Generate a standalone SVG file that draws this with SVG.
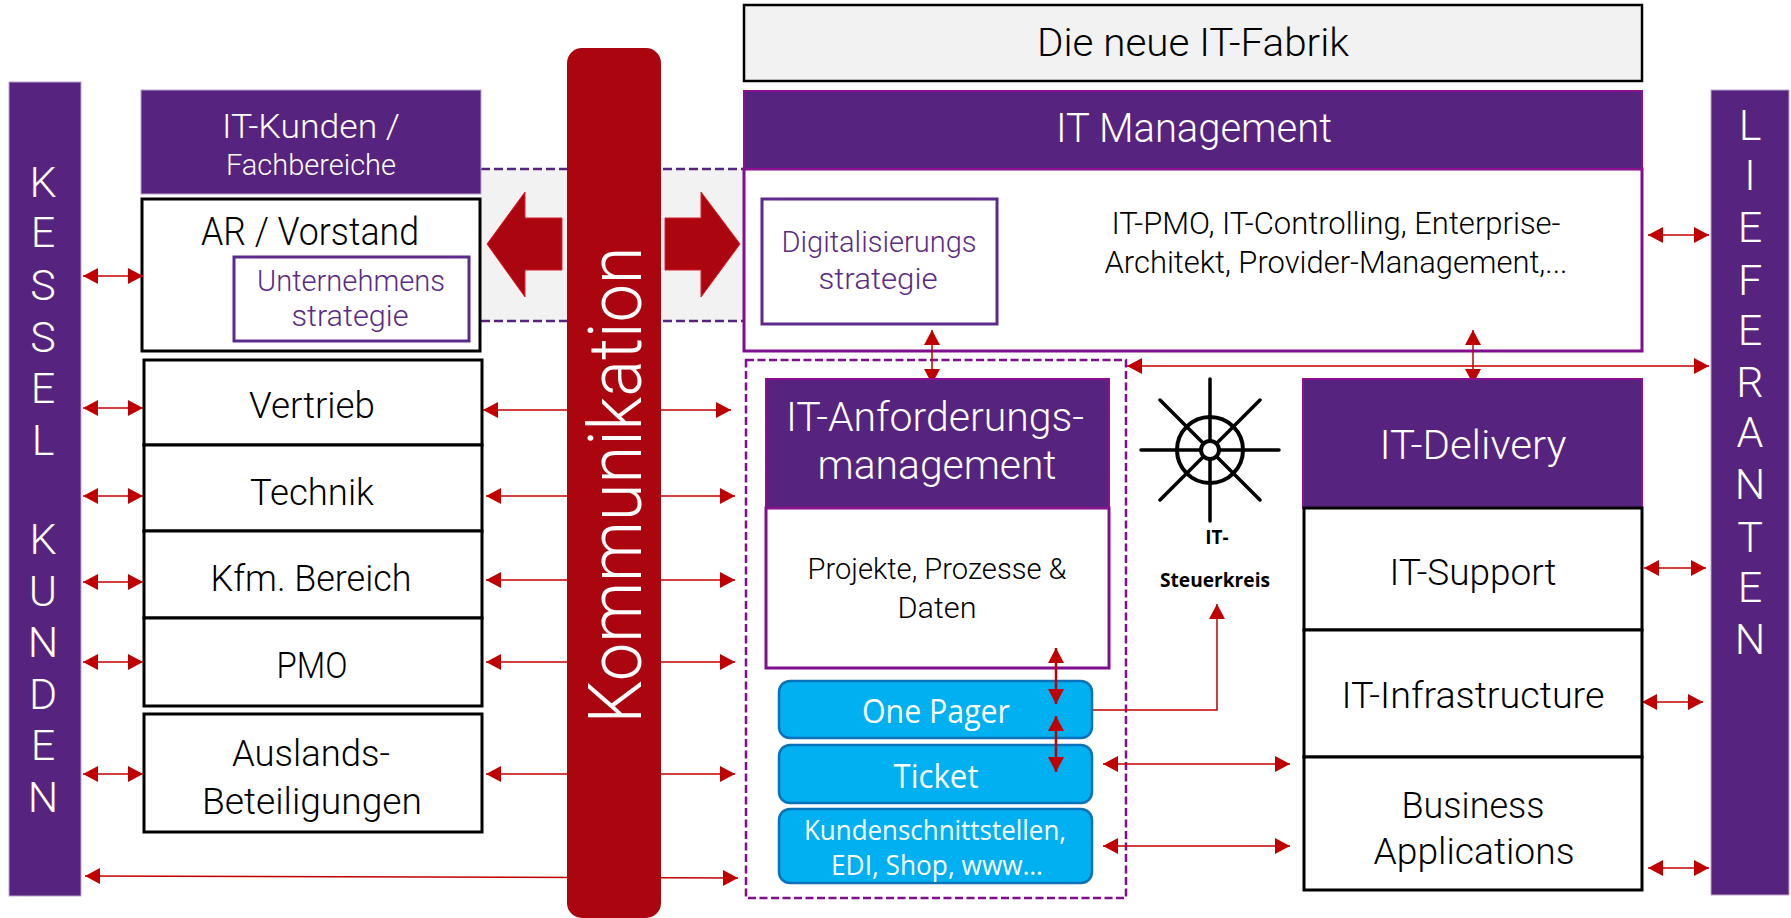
<svg xmlns="http://www.w3.org/2000/svg" width="1791" height="918" viewBox="0 0 1791 918">
<style>
text{font-family:Roboto,"Open Sans","Liberation Sans",sans-serif;font-weight:300;text-anchor:middle;fill:#000}
.w{fill:#fff}.p{fill:#5b2a86}
.c{font-family:"Open Sans","Liberation Sans",sans-serif;font-weight:400}
.bar{fill:#56247e;stroke:#b9a3cf;stroke-width:1}
.hd{fill:#56247e;stroke:#8b0f8f;stroke-width:2}
.bx{fill:#fff;stroke:#000;stroke-width:3}
.pb{fill:#fff;stroke:#800f8f;stroke-width:3}
.in{fill:#fff;stroke:#5b2a8a;stroke-width:3}
.bl{fill:#00b0f0;stroke:#0b72b9;stroke-width:2.5}
.lk{fill:none;stroke:#c00000;stroke-width:1.5;marker-start:url(#ah);marker-end:url(#ah)}
.lt{stroke-width:2.5}
.ba{fill:#ab0510;stroke:#d8202a;stroke-width:1}
.sp{stroke:#000;stroke-width:3.5;stroke-linecap:round;fill:none}
</style>
<defs>
<marker id="ah" markerUnits="userSpaceOnUse" markerWidth="16" markerHeight="16" refX="15" refY="8" orient="auto-start-reverse"><path d="M0 0L15 8L0 16z" fill="#c00000"/></marker>
<marker id="ae" markerUnits="userSpaceOnUse" markerWidth="16" markerHeight="16" refX="15" refY="8" orient="auto"><path d="M0 0L15 8L0 16z" fill="#c00000"/></marker>
</defs>
<rect width="1791" height="918" fill="#fff"/>
<g id="band">
<rect x="481" y="169" width="263" height="152" fill="#f2f2f2"/>
<path d="M481 169H744M481 321H744" fill="none" stroke="#56247e" stroke-width="2.5" stroke-dasharray="9 4"/>
</g>
<g id="kessel-kunden"><rect class="bar" x="9" y="82" width="72" height="814"/>
<text class="w" font-size="43"><tspan x="43" y="197">K</tspan><tspan x="43" y="247">E</tspan><tspan x="43" y="300">S</tspan><tspan x="43" y="352">S</tspan><tspan x="43" y="403">E</tspan><tspan x="43" y="455">L</tspan><tspan x="43" y="554">K</tspan><tspan x="43" y="606">U</tspan><tspan x="43" y="657">N</tspan><tspan x="43" y="709">D</tspan><tspan x="43" y="760">E</tspan><tspan x="43" y="812">N</tspan></text></g>
<g id="lieferanten"><rect class="bar" x="1711" y="90" width="78" height="805"/>
<text class="w" font-size="43"><tspan x="1750" y="140">L</tspan><tspan x="1750" y="190">I</tspan><tspan x="1750" y="242">E</tspan><tspan x="1750" y="295">F</tspan><tspan x="1750" y="345">E</tspan><tspan x="1750" y="397">R</tspan><tspan x="1750" y="447">A</tspan><tspan x="1750" y="499">N</tspan><tspan x="1750" y="552">T</tspan><tspan x="1750" y="602">E</tspan><tspan x="1750" y="654">N</tspan></text></g>
<g id="it-kunden"><rect class="bar" x="141" y="90" width="340" height="104"/>
<text class="w" font-size="34" x="311" y="138" textLength="178" lengthAdjust="spacingAndGlyphs">IT-Kunden /</text>
<text class="w" font-size="29" x="311" y="175" textLength="170" lengthAdjust="spacingAndGlyphs">Fachbereiche</text></g>
<g id="ar-vorstand"><rect class="bx" x="142" y="199" width="338" height="152"/>
<text font-size="38" x="310" y="245" textLength="218" lengthAdjust="spacingAndGlyphs">AR / Vorstand</text></g>
<g id="unternehmensstrategie"><rect class="in" x="234" y="257" width="235" height="84"/>
<text class="p" font-size="29" x="351" y="291" textLength="188" lengthAdjust="spacingAndGlyphs">Unternehmens</text>
<text class="p" font-size="29" x="350" y="326" textLength="117" lengthAdjust="spacingAndGlyphs">strategie</text></g>
<g id="vertrieb"><rect class="bx" x="144" y="360" width="338" height="85"/><text font-size="37" x="312" y="418" textLength="126" lengthAdjust="spacingAndGlyphs">Vertrieb</text></g>
<g id="technik"><rect class="bx" x="144" y="445" width="338" height="86"/><text font-size="37" x="312" y="505" textLength="124" lengthAdjust="spacingAndGlyphs">Technik</text></g>
<g id="kfm-bereich"><rect class="bx" x="144" y="531" width="338" height="87"/><text font-size="37" x="311" y="591" textLength="201" lengthAdjust="spacingAndGlyphs">Kfm. Bereich</text></g>
<g id="pmo"><rect class="bx" x="144" y="618" width="338" height="88"/><text font-size="37" x="312" y="678" textLength="71" lengthAdjust="spacingAndGlyphs">PMO</text></g>
<g id="auslands"><rect class="bx" x="144" y="714" width="338" height="118"/>
<text font-size="37" x="311" y="766" textLength="158" lengthAdjust="spacingAndGlyphs">Auslands-</text>
<text font-size="37" x="312" y="814" textLength="220" lengthAdjust="spacingAndGlyphs">Beteiligungen</text></g>
<g id="title"><rect x="744" y="5" width="898" height="76" fill="#f2f2f2" stroke="#000" stroke-width="2.5"/>
<text font-size="38" x="1193" y="56" textLength="312" lengthAdjust="spacingAndGlyphs">Die neue IT-Fabrik</text></g>
<g id="it-management"><rect class="pb" x="744" y="169" width="898" height="182"/><rect class="hd" x="744" y="91" width="898" height="78"/>
<text class="w" font-size="40" x="1194" y="142" textLength="276" lengthAdjust="spacingAndGlyphs">IT Management</text>
<text font-size="31" x="1336" y="234" textLength="449" lengthAdjust="spacingAndGlyphs">IT-PMO, IT-Controlling, Enterprise-</text>
<text font-size="31" x="1336" y="273" textLength="463" lengthAdjust="spacingAndGlyphs">Architekt, Provider-Management,...</text></g>
<g id="digitalisierungsstrategie"><rect class="in" x="762" y="199" width="235" height="125"/>
<text class="p" font-size="29" x="879" y="252" textLength="195" lengthAdjust="spacingAndGlyphs">Digitalisierungs</text>
<text class="p" font-size="29" x="878" y="289" textLength="119" lengthAdjust="spacingAndGlyphs">strategie</text></g>
<g id="dashed-frame"><rect x="746" y="360" width="380" height="538" fill="none" stroke="#800f8f" stroke-width="2.5" stroke-dasharray="8 3.5"/></g>
<g id="connectors">
<path class="lk" d="M83 276H143"/><path class="lk" d="M83 408H143"/><path class="lk" d="M83 496H143"/><path class="lk" d="M83 582H143"/><path class="lk" d="M83 662H143"/><path class="lk" d="M83 774H143"/>
<path class="lk" d="M483 410H731"/><path class="lk" d="M486 496H735"/><path class="lk" d="M486 580H735"/><path class="lk" d="M486 662H735"/><path class="lk" d="M486 774H735"/>
<path class="lk" d="M85 876L738 878"/>
<path class="lk" d="M1648 235H1709"/><path class="lk" d="M1127 366H1709"/><path class="lk" d="M1644 568H1706"/><path class="lk" d="M1642 702H1703"/><path class="lk" d="M1648 868H1709"/>
<path class="lk" d="M932 330V384"/><path class="lk" d="M1473 330V384"/>
<path class="lk" d="M1103 764H1290"/><path class="lk" d="M1103 846H1290"/>
<path d="M1092 710H1217V604" fill="none" stroke="#c00000" stroke-width="1.5" marker-end="url(#ae)"/>
</g>
<g id="it-anforderungsmanagement"><rect class="pb" x="766" y="508" width="343" height="160"/><rect class="hd" x="766" y="379" width="343" height="129"/>
<text class="w" font-size="40" x="935" y="431" textLength="298" lengthAdjust="spacingAndGlyphs">IT-Anforderungs-</text>
<text class="w" font-size="40" x="937" y="479" textLength="239" lengthAdjust="spacingAndGlyphs">management</text>
<text font-size="30" x="937" y="579" textLength="259" lengthAdjust="spacingAndGlyphs">Projekte, Prozesse &amp;</text>
<text font-size="30" x="937" y="618" textLength="79" lengthAdjust="spacingAndGlyphs">Daten</text></g>
<g id="one-pager"><rect class="bl" x="779" y="681" width="313" height="57" rx="11"/><text class="w c" font-size="32" x="936" y="723" textLength="148" lengthAdjust="spacingAndGlyphs">One Pager</text></g>
<g id="ticket"><rect class="bl" x="779" y="745" width="313" height="58" rx="11"/><text class="w c" font-size="32" x="936" y="788" textLength="85" lengthAdjust="spacingAndGlyphs">Ticket</text></g>
<g id="kundenschnittstellen"><rect class="bl" x="779" y="809" width="313" height="74" rx="11"/>
<text class="w c" font-size="27" x="935" y="840" textLength="262" lengthAdjust="spacingAndGlyphs">Kundenschnittstellen,</text>
<text class="w c" font-size="27" x="937" y="875" textLength="212" lengthAdjust="spacingAndGlyphs">EDI, Shop, www…</text></g>
<g id="vertical-links">
<path class="lk lt" d="M1056 648V704"/><path class="lk lt" d="M1056 716V772"/>
</g>
<g id="it-steuerkreis">
<path class="sp" d="M1141 450H1279M1210 379V521M1160 400L1260 500M1260 400L1160 500"/>
<circle cx="1210" cy="450" r="33" fill="none" stroke="#000" stroke-width="4"/>
<circle cx="1210" cy="450" r="9" fill="#fff" stroke="#000" stroke-width="4"/>
<text class="c" style="font-weight:700" font-size="19" x="1217" y="544">IT-</text>
<text class="c" style="font-weight:700" font-size="19" x="1215" y="587" textLength="110" lengthAdjust="spacingAndGlyphs">Steuerkreis</text></g>
<g id="it-delivery"><rect class="hd" x="1303" y="379" width="339" height="129"/><text class="w" font-size="40" x="1473" y="459" textLength="187" lengthAdjust="spacingAndGlyphs">IT-Delivery</text></g>
<g id="it-support"><rect class="bx" x="1304" y="508" width="338" height="122"/><text font-size="37" x="1473" y="585" textLength="167" lengthAdjust="spacingAndGlyphs">IT-Support</text></g>
<g id="it-infrastructure"><rect class="bx" x="1304" y="630" width="338" height="127"/><text font-size="37" x="1473" y="708" textLength="263" lengthAdjust="spacingAndGlyphs">IT-Infrastructure</text></g>
<g id="business-applications"><rect class="bx" x="1304" y="757" width="338" height="133"/>
<text font-size="37" x="1473" y="818" textLength="143" lengthAdjust="spacingAndGlyphs">Business</text>
<text font-size="37" x="1474" y="864" textLength="201" lengthAdjust="spacingAndGlyphs">Applications</text></g>
<g id="kommunikation"><rect x="567" y="48" width="94" height="870" rx="15" fill="#ab0510"/>
<text class="w" font-size="74" transform="translate(641 485) rotate(-90)" textLength="477" lengthAdjust="spacingAndGlyphs">Kommunikation</text></g>
<g id="big-arrows">
<path class="ba" d="M487 244L525 192V218H562V270H525V297z"/>
<path class="ba" d="M740 244L701 192V218H665V270H701V297z"/>
</g>
</svg>
